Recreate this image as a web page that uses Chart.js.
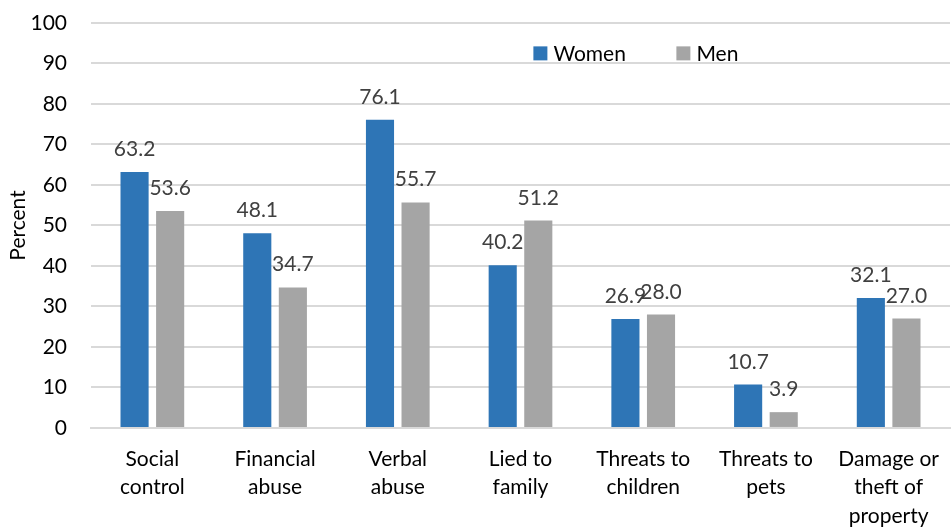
<!DOCTYPE html>
<html>
<head>
<meta charset="utf-8">
<script src="https://cdn.jsdelivr.net/npm/chart.js@4"></script>
<style>
  html, body { margin: 0; padding: 0; background: #fff; }
  #wrap { width: 951px; height: 528px; position: relative; }
</style>
</head>
<body>
<div id="wrap"><canvas id="abuse-chart"></canvas></div>
<script>
const categories = [
  ['Social', 'control'],
  ['Financial', 'abuse'],
  ['Verbal', 'abuse'],
  ['Lied to', 'family'],
  ['Threats to', 'children'],
  ['Threats to', 'pets'],
  ['Damage or', 'theft of', 'property']
];
const women = [63.2, 48.1, 76.1, 40.2, 26.9, 10.7, 32.1];
const men = [53.6, 34.7, 55.7, 51.2, 28.0, 3.9, 27.0];
const yTicks = [0, 10, 20, 30, 40, 50, 60, 70, 80, 90, 100];

const FONT = 'Lato, "Open Sans", sans-serif';
const FONT_SIZE = 21;

// value labels above each bar
const barLabels = {
  id: 'barLabels',
  afterDatasetsDraw(chart) {
    const ctx = chart.ctx;
    ctx.save();
    ctx.font = FONT_SIZE + 'px ' + FONT;
    ctx.fillStyle = '#404040';
    ctx.textAlign = 'center';
    ctx.textBaseline = 'alphabetic';
    chart.data.datasets.forEach((ds, i) => {
      chart.getDatasetMeta(i).data.forEach((bar, j) => {
        ctx.fillText(ds.data[j].toFixed(1), bar.x, bar.y - 16);
      });
    });
    ctx.restore();
  }
};

// legend sitting inside the plot area
const innerLegend = {
  id: 'innerLegend',
  afterDraw(chart) {
    const ctx = chart.ctx;
    const a = chart.chartArea;
    const y = chart.scales.y.getPixelForValue(92.5);
    let x = a.left + (a.right - a.left) * 0.515;
    ctx.save();
    ctx.font = FONT_SIZE + 'px ' + FONT;
    ctx.textBaseline = 'middle';
    ctx.textAlign = 'left';
    chart.data.datasets.forEach(ds => {
      ctx.fillStyle = ds.backgroundColor;
      ctx.fillRect(x, y - 7, 14, 14);
      ctx.fillStyle = '#000';
      ctx.fillText(ds.label, x + 20, y + 1);
      x += 143;
    });
    ctx.restore();
  }
};

new Chart(document.getElementById('abuse-chart'), {
  type: 'bar',
  data: {
    labels: categories,
    datasets: [
      { label: 'Women', data: women, backgroundColor: '#2E75B6' },
      { label: 'Men', data: men, backgroundColor: '#A5A5A5' }
    ]
  },
  plugins: [barLabels, innerLegend],
  options: {
    responsive: true,
    maintainAspectRatio: false,
    animation: false,
    categoryPercentage: 0.58,
    barPercentage: 0.79,
    layout: { padding: { top: 23, right: 1, bottom: -19, left: 0 } },
    plugins: {
      legend: { display: false },
      tooltip: { enabled: false }
    },
    scales: {
      x: {
        afterFit(axis) {
          axis.paddingLeft = 0;
          axis.paddingRight = 0;
        },
        grid: { display: false, drawTicks: false },
        border: { color: '#D9D9D9', width: 2 },
        ticks: {
          color: '#000',
          padding: 17,
          maxRotation: 0,
          autoSkip: false,
          font: { family: FONT, size: FONT_SIZE, lineHeight: 1.35 }
        }
      },
      y: {
        min: 0,
        max: 100,
        afterBuildTicks(axis) {
          axis.ticks = yTicks.map(v => ({ value: v }));
        },
        afterFit(axis) {
          axis.width = 91;
          axis.paddingTop = 0;
          axis.paddingBottom = 0;
        },
        grid: { color: '#D9D9D9', lineWidth: 2, drawTicks: false },
        border: { display: false },
        ticks: {
          color: '#000',
          padding: 24,
          font: { family: FONT, size: FONT_SIZE }
        },
        title: {
          display: true,
          text: 'Percent',
          color: '#000',
          padding: { top: 6, bottom: 4 },
          font: { family: FONT, size: FONT_SIZE }
        }
      }
    }
  }
});
</script>
</body>
</html>
